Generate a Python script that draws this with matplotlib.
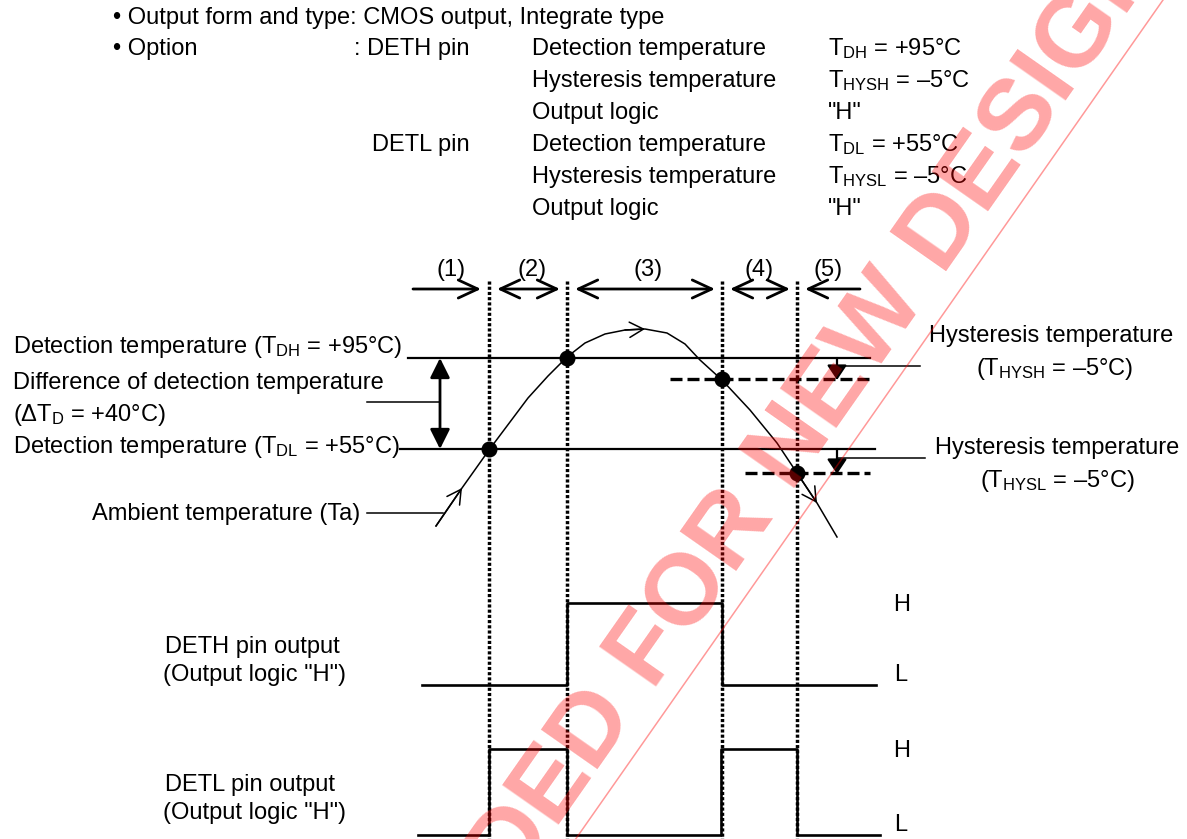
import matplotlib.pyplot as plt

plt.rcParams['font.family'] = ['Liberation Sans', 'DejaVu Sans']
plt.rcParams['mathtext.fontset'] = 'custom'
plt.rcParams['mathtext.rm'] = 'Liberation Sans'
plt.rcParams['mathtext.it'] = 'Liberation Sans:italic'
plt.rcParams['mathtext.bf'] = 'Liberation Sans:bold'

# --- data (diagram units = pixels of the sheet, y grows downwards) ---
# instants where Ta crosses a threshold
t_cross = [489, 567, 722, 797]
interval_labels = ['(1)', '(2)', '(3)', '(4)', '(5)']

# temperature levels
y_tdh, y_tdl = 358, 449          # +95 C, +55 C
y_hysh, y_hysl = 379, 473        # 95-5, 55-5
cross_levels = [y_tdl, y_tdh, y_hysh, y_hysl]

# ambient temperature curve, read from the sheet
ta_x = [436, 462, 489, 510, 528, 548, 567, 585, 605, 625, 645, 667, 685, 700,
        722, 750, 777, 797, 817, 837]
ta_y = [526, 488, 450, 422, 398, 376, 357, 343, 334, 330, 329, 333, 344, 360,
        380, 410, 443, 473, 503, 537]
ta_arrow_idx = [1, 10, 18]

# output waveforms (0 = L, 1 = H)
deth_t = [422, 567, 567, 722, 722, 876]
deth_s = [0, 0, 1, 1, 0, 0]
detl_t = [418, 489, 489, 567, 567, 721, 721, 797, 797, 880]
detl_s = [0, 0, 1, 1, 0, 0, 1, 1, 0, 0]
deth_lv = {0: 685, 1: 603}
detl_lv = {0: 835, 1: 749}

# option table
opt_rows = [
    ('• Option', ': DETH pin', 'Detection temperature', r'T$_{\mathrm{DH}}$ = +95°C'),
    ('', '', 'Hysteresis temperature', r'T$_{\mathrm{HYSH}}$ = –5°C'),
    ('', '', 'Output logic', '"H"'),
    ('', 'DETL pin', 'Detection temperature', r'T$_{\mathrm{DL}}$ = +55°C'),
    ('', '', 'Hysteresis temperature', r'T$_{\mathrm{HYSL}}$ = –5°C'),
    ('', '', 'Output logic', '"H"'),
]

fig = plt.figure(figsize=(11.87, 8.39), dpi=100)
ax = fig.add_axes([0, 0, 1, 1])
ax.set_xlim(0, 1187)
ax.set_ylim(839, 0)
ax.axis('off')

fs = 17

# header text
ax.text(113, 18, '• Output form and type: CMOS output, Integrate type', fontsize=fs, va='center')
for i, row in enumerate(opt_rows):
    y = 49 + i * 32
    ax.text(113, y, row[0], fontsize=fs, va='center')
    ax.text(470, y, row[1], fontsize=fs, va='center', ha='right')
    ax.text(532, y, row[2], fontsize=fs, va='center')
    ax.text(828, y, row[3], fontsize=fs, va='center')

# dotted time markers
for t in t_cross:
    ax.plot([t, t], [281, 839], color='black', lw=2.5, ls=(0, (0.9, 0.6)), zorder=1)

# interval arrows
bounds = [413] + t_cross + [860]
for i, lab in enumerate(interval_labels):
    a, b = bounds[i], bounds[i + 1]
    if i == 0:
        xs, xe, st = a, b - 8, '->'
    elif i == len(interval_labels) - 1:
        xs, xe, st = b, a + 8, '->'
    else:
        xs, xe, st = a + 8, b - 7, '<->'
    ax.annotate('', xy=(xe, 289), xytext=(xs, 289),
                arrowprops=dict(arrowstyle=st + ',head_length=1.4,head_width=0.65',
                                lw=2.0, color='black', shrinkA=0, shrinkB=0,
                                mutation_scale=10))
    ax.text((a + b) / 2 + (4 if i in (1, 2) else 0), 270, lab, fontsize=fs, ha='center', va='center')

# threshold lines
ax.plot([408, 870], [y_tdh, y_tdh], color='black', lw=1.6)
ax.plot([400, 875], [y_tdl, y_tdl], color='black', lw=1.6)
ax.plot([670, 870], [y_hysh, y_hysh], color='black', lw=2.4, ls=(0, (3.6, 1.5)))
ax.plot([745, 870], [y_hysl, y_hysl], color='black', lw=2.4, ls=(0, (3.6, 1.5)))

# hysteresis arrows + leaders
for top, bot, ly, lx in [(y_tdh, y_hysh, 366, 920), (y_tdl, y_hysl, 458, 925)]:
    ax.annotate('', xy=(837, bot + 1), xytext=(837, top),
                arrowprops=dict(arrowstyle='-|>,head_length=0.9,head_width=0.6',
                                lw=1.6, color='black', shrinkA=0, shrinkB=0,
                                mutation_scale=10))
    ax.plot([838, lx], [ly, ly], color='black', lw=1.1)

# delta T arrow + leader
ax.annotate('', xy=(440, y_tdl), xytext=(440, y_tdh),
            arrowprops=dict(arrowstyle='<|-|>,head_length=1.2,head_width=0.6',
                            lw=2.0, color='black', shrinkA=0, shrinkB=0,
                            mutation_scale=10))
ax.plot([367, 440], [402, 402], color='black', lw=1.1)
ax.plot([367, 443], [513, 513], color='black', lw=1.1)

# ambient temperature curve
ax.plot(ta_x, ta_y, color='black', lw=1.1, solid_joinstyle='round')
for k in ta_arrow_idx:
    ax.annotate('', xy=(ta_x[k], ta_y[k]), xytext=(ta_x[k - 1], ta_y[k - 1]),
                arrowprops=dict(arrowstyle='->,head_length=1.0,head_width=0.55',
                                lw=1.1, color='black', shrinkA=0, shrinkB=0,
                                mutation_scale=10))
ax.plot(t_cross, cross_levels, 'o', color='black', ms=10.5, zorder=5)

# outputs
ax.plot(deth_t, [deth_lv[s] for s in deth_s], color='black', lw=1.9, zorder=3)
ax.plot(detl_t, [detl_lv[s] for s in detl_s], color='black', lw=1.9, zorder=3)
for lv in [deth_lv, detl_lv]:
    ax.text(902, lv[1] + 2, 'H', fontsize=fs, ha='center', va='center')
    ax.text(901, lv[0] - 10, 'L', fontsize=fs, ha='center', va='center')

# labels
ax.text(13, 347, r'Detection temperature (T$_{\mathrm{DH}}$ = +95°C)', fontsize=fs, va='center')
ax.text(13, 383, 'Difference of detection temperature', fontsize=fs, va='center')
ax.text(13, 415, r'(ΔT$_{\mathrm{D}}$ = +40°C)', fontsize=fs, va='center')
ax.text(13, 447, r'Detection temperature (T$_{\mathrm{DL}}$ = +55°C)', fontsize=fs, va='center')
ax.text(92, 514, 'Ambient temperature (Ta)', fontsize=fs, va='center')
ax.text(1051, 336, 'Hysteresis temperature', fontsize=fs, ha='center', va='center')
ax.text(1055, 369, r'(T$_{\mathrm{HYSH}}$ = –5°C)', fontsize=fs, ha='center', va='center')
ax.text(1057, 448, 'Hysteresis temperature', fontsize=fs, ha='center', va='center')
ax.text(1057, 481, r'(T$_{\mathrm{HYSL}}$ = –5°C)', fontsize=fs, ha='center', va='center')
ax.text(165, 647, 'DETH pin output', fontsize=fs, va='center')
ax.text(163, 675, '(Output logic "H")', fontsize=fs, va='center')
ax.text(165, 785, 'DETL pin output', fontsize=fs, va='center')
ax.text(163, 813, '(Output logic "H")', fontsize=fs, va='center')

# watermark
ax.text(598, 770, 'NOT RECOMMENDED FOR NEW DESIGN', rotation=55, rotation_mode='anchor',
        ha='center', va='baseline', fontsize=73, fontweight='bold', color='red',
        alpha=0.35, zorder=10)
ax.plot([1177, 561], [-20, 860], color='red', lw=1.1, alpha=0.4, zorder=10)

fig.savefig('out.png', dpi=100)
